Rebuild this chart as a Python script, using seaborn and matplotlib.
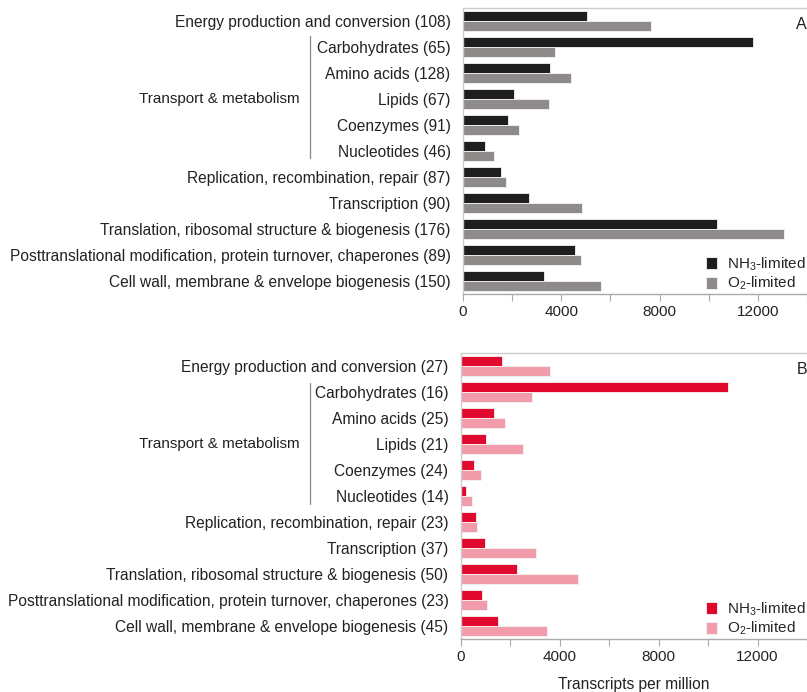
import numpy as np
import pandas as pd
import matplotlib
matplotlib.use("Agg")
import matplotlib.pyplot as plt
import matplotlib.transforms as mtransforms
import seaborn as sns

# Functional categories (COG groups) with gene counts per panel
groups = ["Energy production and conversion", "Carbohydrates", "Amino acids",
          "Lipids", "Coenzymes", "Nucleotides",
          "Replication, recombination, repair", "Transcription",
          "Translation, ribosomal structure & biogenesis",
          "Posttranslational modification, protein turnover, chaperones",
          "Cell wall, membrane & envelope biogenesis"]
counts_a = [108, 65, 128, 67, 91, 46, 87, 90, 176, 89, 150]
counts_b = [27, 16, 25, 21, 24, 14, 23, 37, 50, 23, 45]

conditions = ["NH$_3$-limited", "O$_2$-limited"]

# Transcripts per million, panel A
a_nh3 = [5050, 11800, 3530, 2090, 1850, 880, 1560, 2670, 10350, 4570, 3280]
a_o2 = [7650, 3760, 4410, 3510, 2290, 1250, 1730, 4830, 13070, 4800, 5610]

# Transcripts per million, panel B
b_nh3 = [1650, 10790, 1340, 1000, 530, 190, 610, 980, 2250, 850, 1480]
b_o2 = [3620, 2860, 1770, 2510, 810, 440, 640, 3030, 4750, 1050, 3470]

tick_labels_x = [0, 4000, 8000, 12000]

sns.set_theme(style="white")
plt.rcParams["font.family"] = ["Liberation Sans", "DejaVu Sans"]
plt.rcParams["mathtext.fontset"] = "custom"
plt.rcParams["mathtext.rm"] = "Liberation Sans"
plt.rcParams["mathtext.it"] = "Liberation Sans:italic"

W, H = 807, 692
fig = plt.figure(figsize=(W / 100, H / 100), dpi=100)


def make_frame(counts, nh3, o2):
    labels = [f"{g} ({c})" for g, c in zip(groups, counts)]
    rows = []
    for lab, v1, v2 in zip(labels, nh3, o2):
        rows.append({"category": lab, "condition": conditions[0], "tpm": v1})
        rows.append({"category": lab, "condition": conditions[1], "tpm": v2})
    return pd.DataFrame(rows), labels


def draw_panel(rect, xmax, counts, nh3, o2, colors, letter, line_y):
    ax = fig.add_axes(rect)
    df, labels = make_frame(counts, nh3, o2)
    sns.barplot(data=df, y="category", x="tpm", hue="condition", order=labels,
                hue_order=conditions, palette=colors, saturation=1, orient="h",
                width=0.78, edgecolor="#f4f4f4", linewidth=0.6, ax=ax, legend=True)
    ax.set_xlim(0, xmax)
    ax.set_ylim(10.5, -0.5)
    ax.set_ylabel("")
    ax.set_xlabel("")
    ticks = np.arange(0, 14001, 2000)
    ax.set_xticks(ticks)
    ax.set_xticklabels([str(v) if v in tick_labels_x else "" for v in ticks])
    ax.tick_params(axis="x", which="major", direction="out", length=5, width=0.8,
                   color="#aaaaaa", labelsize=11, pad=3, bottom=True)
    ax.tick_params(axis="y", length=0, labelsize=11.2, pad=9)
    ax.spines["right"].set_visible(False)
    for s in ("top", "left"):
        ax.spines[s].set_color("#cccccc")
        ax.spines[s].set_linewidth(1.0)
    ax.spines["bottom"].set_color("#aaaaaa")
    ax.spines["bottom"].set_linewidth(1.0)

    # sub-categories of transport & metabolism: bracket line and group label
    trans = mtransforms.blended_transform_factory(fig.transFigure, ax.transData)
    ax.plot([310 / W, 310 / W], line_y, transform=trans, color="#888888",
            lw=0.9, clip_on=False)
    ax.text(300 / W, 3, "Transport & metabolism", transform=trans, ha="right",
            va="center", fontsize=11, color="#222222")

    ax.legend(loc="lower right", frameon=False, fontsize=11,
              handlelength=0.75, handleheight=0.85, handletextpad=0.6,
              labelspacing=0.12, borderaxespad=0.0, borderpad=0.0,
              bbox_to_anchor=(0.995, 0.006))
    ax.text(1.0, 0.97, letter, transform=ax.transAxes, ha="right", va="top",
            fontsize=11.5, color="#222222")
    for t in ax.get_yticklabels() + ax.get_xticklabels():
        t.set_color("#222222")
    return ax


x_a = (W - 463) / 0.025
x_b = (W - 461) / 0.02508

ax_a = draw_panel([463 / W, 1 - 294 / H, 1 - 463 / W, 286 / H], x_a,
                  counts_a, a_nh3, a_o2, ["#1e1e1e", "#8f8b8b"], "A", [0.58, 5.27])
ax_b = draw_panel([461 / W, 1 - 639 / H, 1 - 461 / W, 286 / H], x_b,
                  counts_b, b_nh3, b_o2, ["#e0082c", "#f29cab"], "B", [0.65, 5.3])
ax_b.set_xlabel("Transcripts per million", fontsize=11.2, labelpad=9, color="#222222")

fig.savefig("out.png", dpi=100)
